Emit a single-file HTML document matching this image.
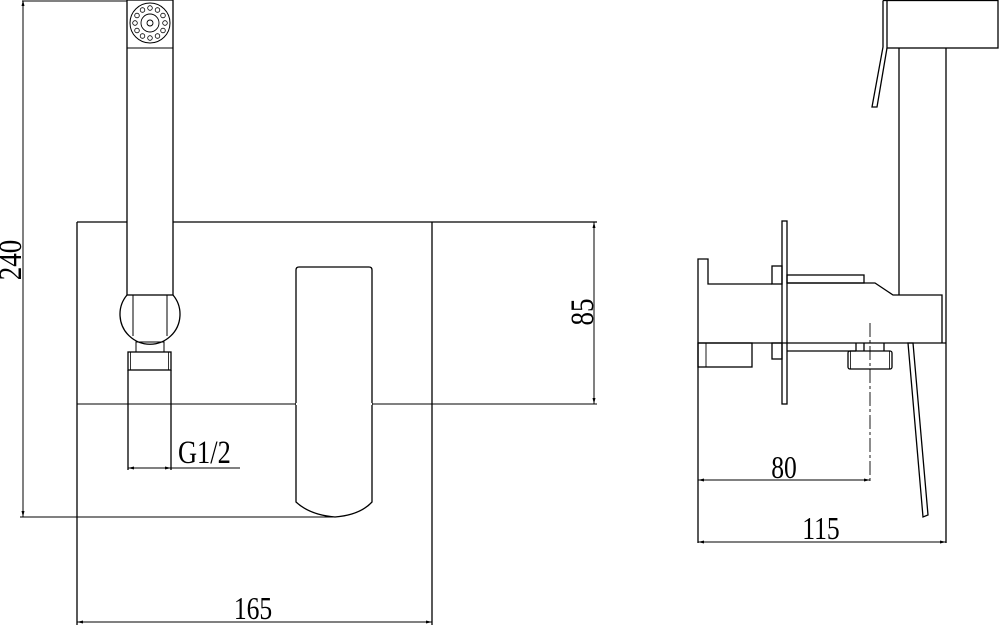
<!DOCTYPE html>
<html><head><meta charset="utf-8"><style>
html,body{margin:0;padding:0;background:#fff;}
svg{display:block}
text{font-family:"Liberation Serif",serif;fill:#000}
</style></head><body>
<svg width="1000" height="625" viewBox="0 0 1000 625" xmlns="http://www.w3.org/2000/svg">
<g fill="none" stroke="#000" stroke-width="1.3">
<line x1="22" y1="1" x2="127" y2="1" stroke-width="1"/>
<line x1="23" y1="1" x2="23" y2="517" stroke-width="1"/>
<line x1="20" y1="517" x2="335" y2="517" stroke-width="1"/>
<line x1="77" y1="222" x2="127" y2="222"/>
<line x1="173" y1="222" x2="597" y2="222"/>
<line x1="77" y1="222" x2="77" y2="625"/>
<line x1="432" y1="222" x2="432" y2="625"/>
<line x1="77" y1="404" x2="597" y2="404" stroke-width="1"/>
<line x1="594" y1="222" x2="594" y2="404" stroke-width="1"/>
<line x1="77" y1="622" x2="432" y2="622" stroke-width="1"/>
<rect x="127" y="0" width="46" height="295"/>
<line x1="127" y1="48" x2="173" y2="48" stroke-width="1"/>
<circle cx="150" cy="23" r="20" stroke-width="1"/>
<circle cx="150" cy="23" r="9" stroke-width="0.9"/>
<circle cx="150" cy="23" r="3" stroke-width="0.9"/>
<g stroke-width="0.8">
<circle cx="165" cy="23" r="2.3"/><circle cx="163" cy="30.5" r="2.3"/><circle cx="157.5" cy="36" r="2.3"/>
<circle cx="150" cy="38" r="2.3"/><circle cx="142.5" cy="36" r="2.3"/><circle cx="137" cy="30.5" r="2.3"/>
<circle cx="135" cy="23" r="2.3"/><circle cx="137" cy="15.5" r="2.3"/><circle cx="142.5" cy="10" r="2.3"/>
<circle cx="150" cy="8" r="2.3"/><circle cx="157.5" cy="10" r="2.3"/><circle cx="163" cy="15.5" r="2.3"/>
</g>
<path d="M127 295 A30 30 0 1 0 173 295"/>
<line x1="133" y1="295" x2="133" y2="336" stroke-width="1"/>
<line x1="167" y1="295" x2="167" y2="336" stroke-width="1"/>
<rect x="136" y="342" width="28" height="10" stroke-width="1"/>
<rect x="128" y="352" width="43" height="18"/>
<line x1="130.5" y1="352" x2="130.5" y2="370" stroke-width="0.8"/>
<line x1="168.5" y1="352" x2="168.5" y2="370" stroke-width="0.8"/>
<line x1="128" y1="370" x2="128" y2="470"/>
<line x1="171" y1="370" x2="171" y2="470"/>
<line x1="128" y1="468" x2="240" y2="468" stroke-width="1"/>
<path d="M296 502 L296 270 Q296 267 299 267 L369 267 Q372 267 372 270 L372 502 Q360 515 335 517 Q310 515 296 502 Z" fill="#fff"/>
<line x1="296" y1="404" x2="372" y2="404" stroke="#fff" stroke-width="2"/>

<rect x="887" y="0.5" width="111" height="47.5"/>
<line x1="883" y1="0.5" x2="887" y2="0.5"/>
<polyline points="883,0.5 883,47 872,107 877,107 887,48"/>
<line x1="899" y1="48" x2="899" y2="295"/>
<line x1="946" y1="48" x2="946" y2="543" />
<polyline points="698,543 698,259 708,259 708,284 772,284"/>
<rect x="772" y="266" width="10" height="18"/>
<rect x="782" y="221" width="5" height="183"/>
<rect x="787" y="275" width="77" height="8"/>
<polyline points="787,283 875,283 893,295 942,295 942,343"/>
<line x1="698" y1="343" x2="946" y2="343"/>
<rect x="698" y="343" width="54" height="24"/>
<line x1="706" y1="343" x2="706" y2="367" stroke-width="0.9"/>
<rect x="772" y="343" width="10" height="16"/>
<line x1="787" y1="351" x2="856" y2="351"/>
<line x1="856" y1="343" x2="856" y2="351"/>
<line x1="864" y1="343" x2="864" y2="351"/>
<line x1="884" y1="343" x2="884" y2="351"/>
<rect x="848" y="351" width="44" height="18" rx="2"/>
<line x1="850.5" y1="351" x2="850.5" y2="369" stroke-width="0.8"/>
<line x1="889.5" y1="351" x2="889.5" y2="369" stroke-width="0.8"/>
<line x1="870" y1="323" x2="870" y2="483" stroke-width="0.9" stroke-dasharray="14,3,3,3"/>
<polygon points="908,343 913,343 928,515 923,517"/>
<line x1="698" y1="480" x2="870" y2="480" stroke-width="1"/>
<line x1="698" y1="542" x2="946" y2="542" stroke-width="1"/>
</g>
<g fill="#000">
<polygon points="23,0 21.5,6 24.5,6"/><polygon points="23,517 21.5,511 24.5,511"/>
<polygon points="594,222 592.5,228 595.5,228"/><polygon points="594,404 592.5,398 595.5,398"/>
<polygon points="77,622 83,620.5 83,623.5"/><polygon points="432,622 426,620.5 426,623.5"/>
<polygon points="128,468 134,466.5 134,469.5"/><polygon points="171,468 165,466.5 165,469.5"/>
<polygon points="698,480 704,478.5 704,481.5"/><polygon points="870,480 864,478.5 864,481.5"/>
<polygon points="698,542 704,540.5 704,543.5"/><polygon points="946,542 940,540.5 940,543.5"/>
</g>
<text font-size="33" transform="translate(21,260) rotate(-90) scale(0.82,1)" text-anchor="middle">240</text>
<text font-size="33" transform="translate(593,312) rotate(-90) scale(0.82,1)" text-anchor="middle">85</text>
<text font-size="32" transform="translate(253,619) scale(0.8,1)" text-anchor="middle">165</text>
<text font-size="33" transform="translate(178,463) scale(0.8,1)">G1/2</text>
<text font-size="32" transform="translate(784,478) scale(0.8,1)" text-anchor="middle">80</text>
<text font-size="32" transform="translate(821,539) scale(0.8,1)" text-anchor="middle">115</text>
</svg>
</body></html>
